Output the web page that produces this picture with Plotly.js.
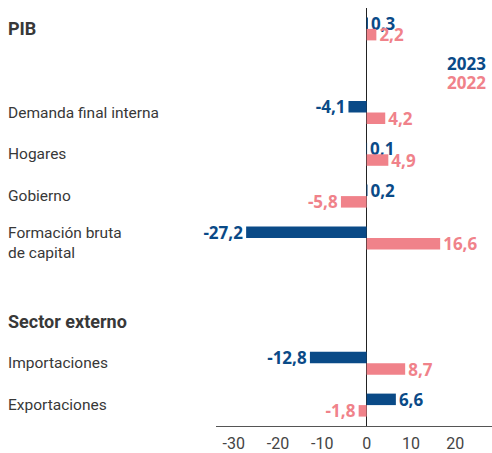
<!DOCTYPE html>
<html>
<head>
<meta charset="utf-8">
<script src="https://cdn.plot.ly/plotly-3.0.1.min.js"></script>
<style>html,body{margin:0;padding:0;background:#fff;}#chart{width:492px;height:453px;}</style>
</head>
<body>
<div id="chart"></div>
<script>
// Data
const rows = ["PIB", "gap1", "Demanda final interna", "Hogares", "Gobierno", "Formación bruta de capital", "gap2", "Sector externo", "Importaciones", "Exportaciones"];
const rowLabels = ["PIB", "", "Demanda final interna", "Hogares", "Gobierno", "Formación bruta<br>de capital", "", "Sector externo", "Importaciones", "Exportaciones"];
const headingRows = ["PIB", "Sector externo"];
const categories = ["PIB", "Demanda final interna", "Hogares", "Gobierno", "Formación bruta de capital", "Importaciones", "Exportaciones"];
const values2023 = [0.3, -4.1, 0.1, 0.2, -27.2, -12.8, 6.6];
const values2022 = [2.2, 4.2, 4.9, -5.8, 16.6, 8.7, -1.8];
const seriesNames = ["2023", "2022"];
const tickValues = [-30, -20, -10, 0, 10, 20];

const BLUE = "#0a4a87";
const PINK = "#f0828a";
const fmt = v => v.toFixed(1).replace(".", ",");
const valueFont = {family: "Open Sans, sans-serif", size: 17, weight: 700};

const traces = [
  {type: "bar", orientation: "h", name: seriesNames[0], y: categories, x: values2023,
   marker: {color: BLUE}, text: values2023.map(fmt), textposition: "outside",
   textfont: Object.assign({color: BLUE}, valueFont), constraintext: "none", cliponaxis: false, hoverinfo: "skip"},
  {type: "bar", orientation: "h", name: seriesNames[1], y: categories, x: values2022,
   marker: {color: PINK}, text: values2022.map(fmt), textposition: "outside",
   textfont: Object.assign({color: PINK}, valueFont), constraintext: "none", cliponaxis: false, hoverinfo: "skip"}
];

const L = 216, W = 276;
const annotations = rows.map((r, i) => {
  const heading = headingRows.includes(r);
  return {
    xref: "paper", yref: "y", x: (6 - L) / W, y: r, xanchor: "left", yanchor: "middle",
    text: heading ? "<b>" + rowLabels[i] + "</b>" : rowLabels[i], showarrow: false, align: "left",
    yshift: r === "Formación bruta de capital" ? -5 : 0,
    font: {family: "Roboto, sans-serif", size: heading ? 18 : 15.5, color: "#383838"}
  };
}).filter(a => a.text !== "");
annotations.push({xref: "paper", yref: "paper", x: (488 - L) / W, y: 0.868, xanchor: "right", yanchor: "middle",
  text: seriesNames[0], showarrow: false, font: {family: "Open Sans, sans-serif", size: 17, weight: 700, color: BLUE}});
annotations.push({xref: "paper", yref: "paper", x: (488 - L) / W, y: 0.822, xanchor: "right", yanchor: "middle",
  text: seriesNames[1], showarrow: false, font: {family: "Open Sans, sans-serif", size: 17, weight: 700, color: PINK}});

const layout = {
  width: 492, height: 453,
  margin: {l: L, r: 0, t: 8, b: 27},
  paper_bgcolor: "#fff", plot_bgcolor: "#fff",
  showlegend: false,
  barmode: "group", bargap: 0.45, bargroupgap: 0,
  xaxis: {range: [-34, 28.3], showgrid: false, zeroline: true, zerolinecolor: "#222", zerolinewidth: 1.5,
    showline: true, linecolor: "#555", linewidth: 1, ticks: "", ticklabelstandoff: 3,
    tickvals: tickValues, ticktext: tickValues.map(String),
    tickfont: {family: "Roboto, sans-serif", size: 16, color: "#444"}, fixedrange: true},
  yaxis: {type: "category", categoryorder: "array", categoryarray: rows, range: [rows.length - 0.5, -0.5],
    showticklabels: false, showgrid: false, zeroline: false, showline: false, ticks: "", fixedrange: true},
  annotations: annotations
};

Plotly.newPlot("chart", traces, layout, {displayModeBar: false, staticPlot: true});
</script>
</body>
</html>
